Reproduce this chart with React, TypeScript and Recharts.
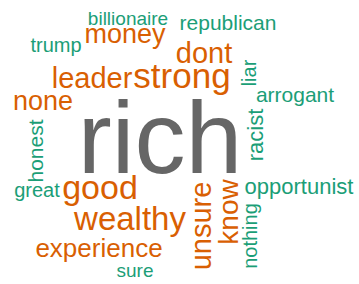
import { ScatterChart, Scatter, XAxis, YAxis } from "recharts";

// words of the cloud, biggest first
const words = [
  "rich", "strong", "good", "wealthy", "unsure", "leader", "dont", "know",
  "money", "none", "experience", "opportunist", "racist", "republican",
  "arrogant", "honest", "liar", "trump", "great", "nothing", "billionaire", "sure",
];
// word weight (drawn as font size)
const counts = [102, 35, 34, 33, 29, 29, 29, 28, 27, 27, 26, 22, 22, 21, 21, 21, 20, 20, 20, 20, 19, 19];
// layout position of each word (cloud space, baseline)
const xs = [160, 182, 100, 130, 211, 92, 204, 238, 125, 43, 99, 299, 263, 228, 295, 43, 256, 56, 37, 257, 128, 135];
const ys = [173, 88, 199, 230, 226, 88, 63, 212, 43, 110, 257, 194, 135, 30, 102, 151, 73, 52, 197, 236, 25, 277];
// frequency band
const bands = [
  "top", "high", "high", "high", "high", "high", "high", "high", "high", "high", "high",
  "low", "low", "low", "low", "low", "low", "low", "low", "low", "low", "low",
];
// upright words read bottom to top
const upright = [
  false, false, false, false, true, false, false, true, false, false, false,
  false, true, false, false, true, true, false, false, true, false, false,
];

const bandColor: Record<string, string> = {
  top: "#666666",
  high: "#d95f02",
  low: "#1b9e77",
};

const data = words.map((w, i) => ({
  word: w,
  x: xs[i],
  y: ys[i],
  count: counts[i],
  band: bands[i],
  upright: upright[i],
}));

const Word = (props: any) => {
  const { cx, cy, payload } = props;
  return (
    <text
      x={cx}
      y={cy}
      textAnchor="middle"
      fontSize={payload.count}
      fontFamily="'Liberation Sans', Arial, sans-serif"
      fill={bandColor[payload.band]}
      transform={payload.upright ? `rotate(-90, ${cx}, ${cy})` : undefined}
    >
      {payload.word}
    </text>
  );
};

export default function App() {
  return (
    <div style={{ position: "absolute", left: 0, top: 0, background: "#fff" }}>
      <ScatterChart width={359} height={284} margin={{ top: 0, right: 0, bottom: 0, left: 0 }}>
        <XAxis type="number" dataKey="x" domain={[0, 359]} hide allowDataOverflow />
        <YAxis type="number" dataKey="y" domain={[0, 284]} hide reversed allowDataOverflow />
        <Scatter data={data} shape={Word} isAnimationActive={false} />
      </ScatterChart>
    </div>
  );
}
